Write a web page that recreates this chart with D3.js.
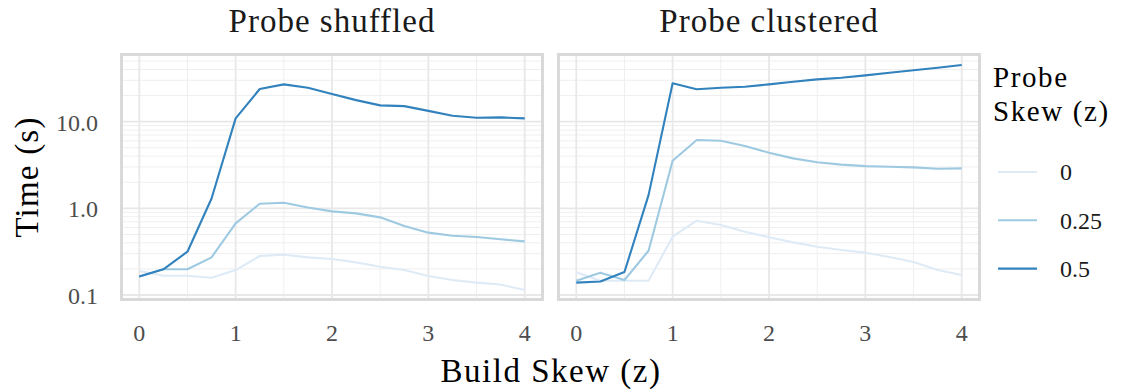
<!DOCTYPE html>
<html>
<head>
<meta charset="utf-8">
<script src="https://cdn.jsdelivr.net/npm/d3@7"></script>
<style>
  body { margin: 0; background: #fff; }
  svg text { font-family: "Liberation Serif", serif; }
</style>
</head>
<body>
<svg id="chart" width="1128" height="392"></svg>
<script>
// build skew values on the x axis
var buildSkew = [0, 0.25, 0.5, 0.75, 1, 1.25, 1.5, 1.75, 2, 2.25, 2.5, 2.75, 3, 3.25, 3.5, 3.75, 4];
var probeSkews = ['0', '0.25', '0.5'];
var panelTitles = ['Probe shuffled', 'Probe clustered'];
var colors = ['#deebf7', '#9ecae1', '#3182bd'];
var xTicks = [0, 1, 2, 3, 4];
var yTicks = [0.1, 1, 10];
var yTickLabels = ['0.1', '1.0', '10.0'];

// time (s), probe shuffled
var shuffled0   = [0.189, 0.167, 0.167, 0.158, 0.194, 0.282, 0.292, 0.272, 0.260, 0.238, 0.212, 0.194, 0.166, 0.149, 0.139, 0.132, 0.114];
var shuffled025 = [0.163, 0.198, 0.198, 0.272, 0.671, 1.13, 1.16, 1.02, 0.923, 0.875, 0.787, 0.625, 0.524, 0.483, 0.467, 0.439, 0.416];
var shuffled05  = [0.163, 0.198, 0.316, 1.30, 10.9, 23.8, 26.9, 24.6, 20.8, 17.7, 15.4, 15.1, 13.3, 11.7, 11.1, 11.2, 10.9];

// time (s), probe clustered
var clustered0   = [0.183, 0.146, 0.146, 0.146, 0.471, 0.719, 0.641, 0.537, 0.463, 0.405, 0.361, 0.330, 0.308, 0.274, 0.240, 0.194, 0.170];
var clustered025 = [0.146, 0.181, 0.149, 0.324, 3.54, 6.13, 6.03, 5.23, 4.38, 3.77, 3.40, 3.19, 3.07, 3.02, 2.97, 2.86, 2.89];
var clustered05  = [0.139, 0.143, 0.184, 1.42, 27.7, 23.6, 24.6, 25.3, 26.9, 28.8, 30.7, 32.1, 34.2, 36.6, 39.1, 41.9, 45.0];

var panels = [
  [shuffled0, shuffled025, shuffled05],
  [clustered0, clustered025, clustered05]
];

var svg = d3.select('#chart');

var panelX = [[120, 544], [557, 981]];
var panelTop = 53, panelBottom = 301;

var y = d3.scaleLog().domain([0.0853, 61.9]).range([panelBottom, panelTop]);

// grid values for the log axis: 1..9 times each decade
var yMinor = [];
[0.01, 0.1, 1, 10].forEach(function(d) {
  for (var k = 2; k <= 9; k++) yMinor.push(d * k);
});
yMinor = yMinor.filter(function(v) { return v > y.domain()[0] && v < y.domain()[1]; });
var xMinor = [0.5, 1.5, 2.5, 3.5];

var line = d3.line();

panels.forEach(function(series, p) {
  var x = d3.scaleLinear().domain([-0.2, 4.2]).range(panelX[p]);
  var g = svg.append('g');

  g.append('rect')
    .attr('x', panelX[p][0]).attr('y', panelTop)
    .attr('width', panelX[p][1] - panelX[p][0])
    .attr('height', panelBottom - panelTop)
    .attr('fill', '#fff');

  // minor grid
  g.selectAll('.ymin').data(yMinor).join('line')
    .attr('x1', panelX[p][0]).attr('x2', panelX[p][1])
    .attr('y1', function(d) { return y(d); }).attr('y2', function(d) { return y(d); })
    .attr('stroke', '#efefef').attr('stroke-width', 1);
  g.selectAll('.xmin').data(xMinor).join('line')
    .attr('x1', function(d) { return x(d); }).attr('x2', function(d) { return x(d); })
    .attr('y1', panelTop).attr('y2', panelBottom)
    .attr('stroke', '#efefef').attr('stroke-width', 1);

  // major grid
  g.selectAll('.ymaj').data(yTicks).join('line')
    .attr('x1', panelX[p][0]).attr('x2', panelX[p][1])
    .attr('y1', function(d) { return y(d); }).attr('y2', function(d) { return y(d); })
    .attr('stroke', '#e8e8e8').attr('stroke-width', 1.8);
  g.selectAll('.xmaj').data(xTicks).join('line')
    .attr('x1', function(d) { return x(d); }).attr('x2', function(d) { return x(d); })
    .attr('y1', panelTop).attr('y2', panelBottom)
    .attr('stroke', '#e8e8e8').attr('stroke-width', 1.8);

  // lines
  series.forEach(function(vals, i) {
    g.append('path')
      .attr('d', line(vals.map(function(v, j) { return [x(buildSkew[j]), y(v)]; })))
      .attr('fill', 'none')
      .attr('stroke', colors[i])
      .attr('stroke-width', 2.1)
      .attr('stroke-linejoin', 'round');
  });

  // border
  g.append('rect')
    .attr('x', panelX[p][0] + 1.5).attr('y', panelTop + 1.5)
    .attr('width', panelX[p][1] - panelX[p][0] - 3)
    .attr('height', panelBottom - panelTop - 3)
    .attr('fill', 'none')
    .attr('stroke', '#d9d9d9').attr('stroke-width', 3);

  // x tick labels
  g.selectAll('.xt').data(xTicks).join('text')
    .attr('x', function(d) { return x(d); })
    .attr('y', 341)
    .attr('text-anchor', 'middle')
    .attr('font-size', 24)
    .attr('fill', '#4d4d4d')
    .text(function(d) { return d; });

  // panel title
  g.append('text')
    .attr('x', (panelX[p][0] + panelX[p][1]) / 2)
    .attr('y', 32)
    .attr('text-anchor', 'middle')
    .attr('font-size', 33)
    .attr('letter-spacing', 1)
    .attr('fill', '#1a1a1a')
    .text(panelTitles[p]);
});

// y tick labels
svg.selectAll('.yt').data(yTicks).join('text')
  .attr('x', 98)
  .attr('y', function(d) { return y(d); })
  .attr('dy', '0.38em')
  .attr('text-anchor', 'end')
  .attr('font-size', 24)
  .attr('fill', '#4d4d4d')
  .text(function(d, i) { return yTickLabels[i]; });

// axis titles
svg.append('text')
  .attr('x', 551).attr('y', 382)
  .attr('text-anchor', 'middle')
  .attr('font-size', 33)
  .attr('letter-spacing', 1.5)
  .text('Build Skew (z)');

svg.append('text')
  .attr('transform', 'translate(38,' + (panelTop + panelBottom) / 2 + ') rotate(-90)')
  .attr('text-anchor', 'middle')
  .attr('font-size', 33)
  .attr('letter-spacing', 1.2)
  .text('Time (s)');

// legend
var legend = svg.append('g');
legend.append('text').attr('x', 993).attr('y', 87).attr('font-size', 29).attr('letter-spacing', 1.6).text('Probe');
legend.append('text').attr('x', 993).attr('y', 121).attr('font-size', 29).attr('letter-spacing', 1.6).text('Skew (z)');
var keys = legend.selectAll('.key').data(probeSkews).join('g')
  .attr('transform', function(d, i) { return 'translate(0,' + (172 + i * 48.3) + ')'; });
keys.append('line')
  .attr('x1', 998).attr('x2', 1037)
  .attr('stroke', function(d, i) { return colors[i]; })
  .attr('stroke-width', 2.1);
keys.append('text')
  .attr('x', 1060).attr('dy', '0.35em')
  .attr('font-size', 24)
  .attr('fill', '#1a1a1a')
  .text(function(d) { return d; });
</script>
</body>
</html>
